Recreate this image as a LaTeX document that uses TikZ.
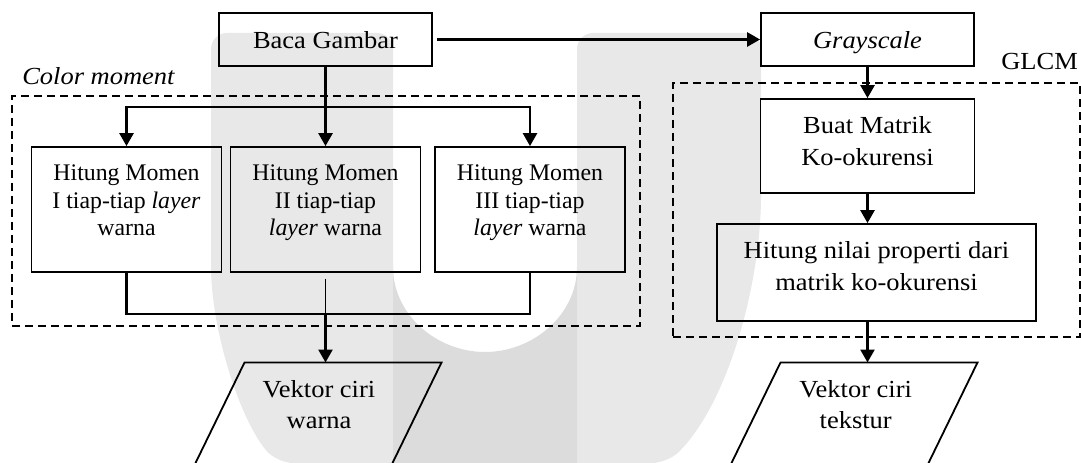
\documentclass[tikz,border=0pt]{standalone}
\usepackage{fontspec}
\setmainfont[FakeStretch=1.08]{Liberation Serif}
\newfontfamily\momenfont{Liberation Serif}
\usetikzlibrary{arrows.meta}

\newlength{\du}
\setlength{\du}{0.75pt}

\definecolor{wmterang}{rgb}{0.910000, 0.910000, 0.910000}
\definecolor{wmgelap}{rgb}{0.863000, 0.863000, 0.863000}

\tikzset{
  prosesbox/.style={draw, line width=1.8\du, inner sep=0pt, align=center,
    font=\fontsize{18.4pt}{24pt}\selectfont},
  momenbox/.style={prosesbox, minimum width=190\du, minimum height=125\du,
    text depth=18.6\du, font=\momenfont\fontsize{17.85pt}{20.8pt}\selectfont},
  grupbox/.style={draw, line width=1.6\du, dash pattern=on 8\du off 5\du,
    inner sep=0pt},
  cirigaris/.style={draw, line width=1.8\du, line join=miter},
  ciriteks/.style={align=center, inner sep=0pt,
    font=\fontsize{18.4pt}{23.25pt}\selectfont},
  judul/.style={anchor=base west, inner sep=0pt,
    font=\fontsize{18.4pt}{22pt}\selectfont},
  garis/.style={line width=2.6\du},
  garistipis/.style={line width=1.5\du},
  panah/.style={line width=2.6\du, -{Triangle[length=9.75pt,width=10.5pt]}}
}

\begin{document}
\begin{tikzpicture}
\pgftransformxscale{1.000000}
\pgftransformyscale{-1.000000}
\clip (0\du,0\du) rectangle (1081\du,463\du);

% watermark
\fill[wmterang, rounded corners=16\du] (277\du,463\du)
  .. controls (240\du,420\du) and (211\du,330\du) .. (211\du,250\du)
  -- (211\du,33\du) -- (393\du,33\du) -- (393\du,267\du)
  .. controls (393\du,315\du) and (437\du,352\du) .. (485\du,352\du)
  .. controls (533\du,352\du) and (577\du,315\du) .. (577\du,267\du)
  -- (577\du,33\du) -- (761\du,33\du) -- (761\du,180\du)
  .. controls (761\du,280\du) and (730\du,400\du) .. (668\du,463\du) -- cycle;
\fill[wmgelap] (393\du,267\du)
  .. controls (393\du,315\du) and (437\du,352\du) .. (485\du,352\du)
  .. controls (533\du,352\du) and (577\du,315\du) .. (577\du,267\du)
  -- (577\du,463\du) -- (393\du,463\du) -- cycle;

% color moment
\node[grupbox, minimum width=628\du, minimum height=230\du] (cm) at (326\du,211\du) {};
\node[judul] (lblcm) at (22\du,85\du) {\textit{Color moment}};
\node[prosesbox, minimum width=213\du, minimum height=53\du, text depth=0pt] (baca) at (325.5\du,39.5\du) {Baca Gambar};
\node[momenbox] (momen1) at (126.5\du,209.5\du) {Hitung Momen\\I tiap-tiap \textit{layer}\\warna};
\node[momenbox] (momen2) at (325.5\du,209.5\du) {Hitung Momen\\II tiap-tiap\\\textit{layer} warna};
\node[momenbox] (momen3) at (530\du,209.5\du) {Hitung Momen\\III tiap-tiap\\\textit{layer} warna};
\coordinate (cabang) at (325.5\du,107\du);
\coordinate (gabung) at (325.5\du,314\du);

% vektor ciri warna
\coordinate (vwarna) at (343\du,362.5\du);
\draw[cirigaris] (244.5\du,362.5\du) -- (441.5\du,362.5\du)
  -- (389.1\du,470\du) -- (192.1\du,470\du) -- cycle;
\node[ciriteks] (twarna) at (319\du,405\du) {Vektor ciri\\warna};

% glcm
\node[grupbox, minimum width=407\du, minimum height=254\du] (glcm) at (876.5\du,210\du) {};
\node[judul] (lblglcm) at (1001\du,70\du) {GLCM};
\node[prosesbox, minimum width=213\du, minimum height=53\du, text depth=0pt] (gray) at (867.5\du,39.5\du) {\textit{Grayscale}};
\node[prosesbox, minimum width=214\du, minimum height=94\du, text depth=9.7\du] (buat) at (867.5\du,146\du) {Buat Matrik\\Ko-okurensi};
\node[prosesbox, minimum width=319\du, minimum height=97\du, text depth=13.7\du] (hitung) at (876.5\du,272.5\du) {Hitung nilai properti dari\\matrik ko-okurensi};

% vektor ciri tekstur
\coordinate (vtekstur) at (879\du,362.5\du);
\draw[cirigaris] (780.5\du,362.5\du) -- (977.5\du,362.5\du)
  -- (925.1\du,470\du) -- (728.1\du,470\du) -- cycle;
\node[ciriteks] (ttekstur) at (855.7\du,405\du) {Vektor ciri\\tekstur};

% panah
\draw[panah, shorten <=4\du] (baca.east) -- (gray.west);
\draw[garis] (baca.south) -- (cabang);
\draw[panah] (cabang) -- (momen2.north);
\draw[panah] (cabang) -| (momen1.north);
\draw[panah] (cabang) -| (momen3.north);
\draw[garis] (momen1.south) |- (gabung) -| (momen3.south);
\draw[garistipis, shorten <=6\du] (momen2.south) -- (gabung);
\draw[panah] (gabung) -- (gabung |- vwarna);
\draw[panah] (gray.south) -- (buat.north);
\draw[panah] (buat.south) -- (buat.south |- hitung.north);
\draw[panah] (buat.south |- hitung.south) -- (buat.south |- vtekstur);
\end{tikzpicture}
\end{document}
